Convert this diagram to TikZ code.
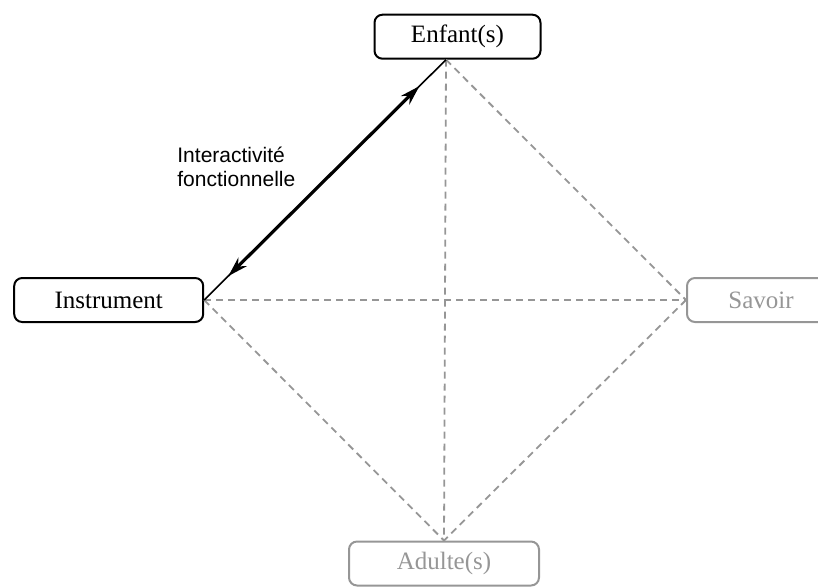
\documentclass[tikz,border=0pt]{standalone}
\usepackage{fontspec}
\setmainfont{Liberation Serif}
\newfontfamily\labelfont{Liberation Sans}
\usetikzlibrary{calc,arrows.meta}

\definecolor{pgray}{RGB}{150,150,150}

\tikzset{
  pole/.style={draw, line width=1pt, rounded corners=4pt, minimum width=94.5pt,
    minimum height=22pt, inner sep=0pt, font=\fontsize{12.5}{14}\selectfont},
  faded/.style={pole, draw=pgray, text=pgray},
  link/.style={pgray, dash pattern=on 3.5pt off 2.5pt, line width=0.9pt},
}

\begin{document}
\begin{tikzpicture}[x=0.5pt,y=-0.5pt]
\useasboundingbox (0,0) rectangle (818,586);
\clip (0,0) rectangle (818,586);

% Poles
\node[pole, minimum width=83pt] (enf) at (457.5,36.7) {Enfant(s)};
\node[pole] (instr) at (108.7,300) {Instrument};
\node[faded, minimum width=74pt] (sav) at (761,300) {Savoir};
\node[faded, minimum width=95pt] (adu) at (444,563.5) {Adulte(s)};
\coordinate (top) at ($(enf.south)+(-11.5,0)$);

% Dashed links
\draw[link] (top) -- (sav.west);
\draw[link] (top) -- (adu.north);
\draw[link] (instr.east) -- (sav.west);
\draw[link] (instr.east) -- (adu.north);
\draw[link] (sav.west) -- (adu.north);

% Interactivity
\draw[line width=0.8pt] (instr.east) -- (top);
\draw[line width=1.6pt, {Stealth[length=10pt,width=6pt]}-{Stealth[length=10pt,width=6pt]}]
  ($(instr.east)!0.1!(top)$) -- ($(instr.east)!0.89!(top)$);
\node[anchor=north west, inner sep=0pt, align=left,
  font=\labelfont\fontsize{10.5}{12}\selectfont] (lab) at (177,147)
  {Interactivité\\fonctionnelle};
\end{tikzpicture}
\end{document}
